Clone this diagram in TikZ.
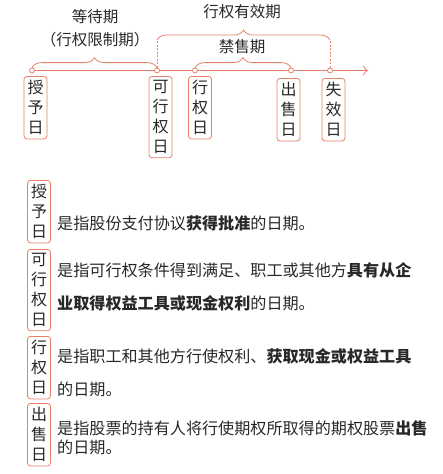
\documentclass[tikz,border=0pt]{standalone}
\usepackage{fontspec}
\setmainfont{Noto Sans CJK SC}
\usetikzlibrary{decorations.pathreplacing,arrows.meta}
\definecolor{brk}{RGB}{232,128,105}
\definecolor{ink}{RGB}{40,40,40}
\tikzset{
  datebox/.style={draw=brk, text=ink, rounded corners=3pt, line width=0.8pt, inner xsep=3.5pt, inner ysep=4pt, align=center, font=\fontsize{16}{20}\selectfont, anchor=north},
  dot/.style={circle, draw=brk, fill=white, line width=0.8pt, minimum size=5pt, inner sep=0pt},
  brc/.style={draw=brk, line width=0.8pt, decorate, decoration={brace, amplitude=10pt}},
  desc/.style={anchor=west, align=left, inner sep=0pt, text=ink, font=\fontsize{16.1}{33}\selectfont},
  lbl/.style={text=ink, font=\fontsize{15.5}{18}\selectfont}
}
\begin{document}
\begin{tikzpicture}[x=1pt,y=-1pt]
\useasboundingbox (0,0) rectangle (442,474);
\coordinate (axisstart) at (32,70.5);
\coordinate (axisend) at (368,70.5);
\draw[brk, line width=0.8pt, -{To[length=5pt,width=10pt]}] (axisstart) -- (axisend);
\node[dot] (grant) at (32,70.5) {};
\node[dot] (vest) at (157,70.5) {};
\node[dot] (exer) at (195,70.5) {};
\node[dot] (sale) at (291,70.5) {};
\node[dot] (expiry) at (330,70.5) {};

\node[datebox] (grantbox) at (35.5,76) {授\\予\\日};
\node[datebox] (vestbox) at (160.5,76) {可\\行\\权\\日};
\node[datebox] (exerbox) at (200,76) {行\\权\\日};
\node[datebox] (salebox) at (288.5,78) {出\\售\\日};
\node[datebox] (expirybox) at (333.5,78) {失\\效\\日};

\draw[brc] (grant.north) -- (vest.north);
\draw[brc] (exer.north) -- (sale.north);
\coordinate (validl) at (157,40);
\coordinate (validr) at (330,40);
\draw[brk, line width=0.8pt, dash pattern=on 2pt off 1.5pt] (vest.north) -- (validl);
\draw[brk, line width=0.8pt, dash pattern=on 2pt off 1.5pt] (expiry.north) -- (validr);
\draw[brc] (validl) -- (validr);

\node[lbl] (waitlbl) at (95,17) {等待期};
\node[lbl] (waitsub) at (95,40) {（行权限制期）};
\node[lbl] (validlbl) at (242,12) {行权有效期};
\node[lbl] (locklbl) at (242,47) {禁售期};

\node[datebox] (grantkey) at (39,180) {授\\予\\日};
\node[datebox] (vestkey) at (39,249) {可\\行\\权\\日};
\node[datebox] (exerkey) at (39,336) {行\\权\\日};
\node[datebox] (salekey) at (39,403) {出\\售\\日};

\node[desc] (grantdesc) at (57,223) {是指股份支付协议\textbf{获得批准}的日期。};
\node[desc] (vestdesc) at (57,286.5) {是指可行权条件得到满足、职工或其他方\textbf{具有从企}\\\textbf{业取得权益工具或现金权利}的日期。};
\node[desc] (exerdesc) at (57,373) {是指职工和其他方行使权利、\textbf{获取现金或权益工具}\\的日期。};
\node[desc, font=\fontsize{16.1}{19}\selectfont] (saledesc) at (57,437.5) {是指股票的持有人将行使期权所取得的期权股票\textbf{出售}\\的日期。};
\end{tikzpicture}
\end{document}
